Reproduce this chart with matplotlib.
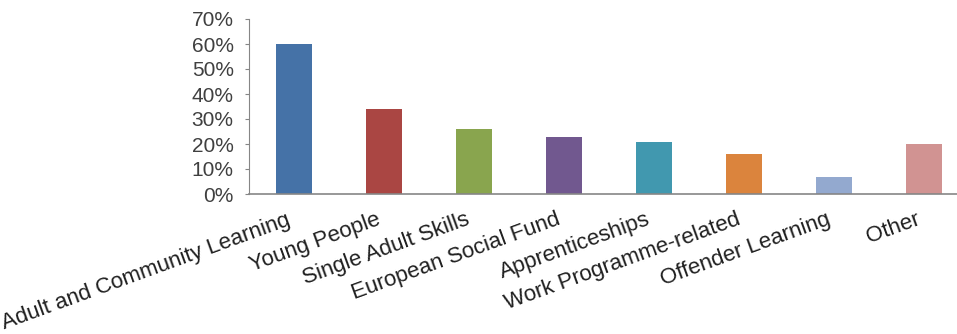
import matplotlib.pyplot as plt
import matplotlib.transforms as mtransforms
from matplotlib.ticker import PercentFormatter

# funding streams and share of providers
categories = ["Adult and Community Learning", "Young People", "Single Adult Skills",
              "European Social Fund", "Apprenticeships", "Work Programme-related",
              "Offender Learning", "Other"]
shares = [60, 34, 26, 23, 21, 16, 7, 20]
colours = ["#4572A7", "#AA4643", "#89A54E", "#71588F",
           "#4198AF", "#DB843D", "#93A9CF", "#D19392"]

plt.rcParams['font.family'] = ['Liberation Sans', 'DejaVu Sans']

fig = plt.figure(figsize=(9.57, 3.34), dpi=100)
ax = fig.add_axes([249 / 957, 140 / 334, 720 / 957, 175 / 334])

x = range(len(categories))
ax.bar(x, shares, width=0.4, color=colours, zorder=2)

ax.set_xlim(-0.5, len(categories) - 0.5)
ax.set_ylim(0, 70)
ax.set_yticks(range(0, 71, 10))
ax.yaxis.set_major_formatter(PercentFormatter(decimals=0))

ax.spines['top'].set_visible(False)
ax.spines['right'].set_visible(False)
ax.spines['left'].set_color('#868686')
ax.spines['bottom'].set_color('#868686')
ax.spines['bottom'].set_linewidth(1.2)

ax.tick_params(axis='y', length=3, color='#868686', pad=8, labelsize=15, labelcolor='#404040')
ax.tick_params(axis='x', length=0, pad=11, labelsize=16, labelcolor='#202020')

ax.set_xticks(list(x))
ax.set_xticklabels(categories, rotation=20, ha='right', va='top', rotation_mode='anchor')
shift = mtransforms.ScaledTranslation(-6 / 72, 0, fig.dpi_scale_trans)
for lbl in ax.get_xticklabels():
    lbl.set_transform(lbl.get_transform() + shift)

fig.savefig("out.png", dpi=100)
